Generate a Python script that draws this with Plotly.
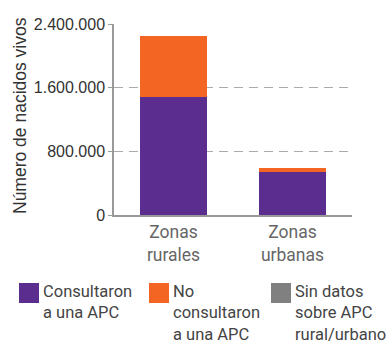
import plotly.graph_objects as go

# Births by zone and antenatal-care (APC) status
categories = ["Zonas<br>rurales", "Zonas<br>urbanas"]
consultaron = [1486000, 545000]
no_consultaron = [767000, 50000]
sin_datos = [0, 0]

series_names = ["Consultaron<br>a una APC", "No<br>consultaron<br>a una APC", "Sin datos<br>sobre APC<br>rural/urbano"]
series_colors = ["#5B2D8E", "#F26522", "#808080"]
y_ticks = [0, 800000, 1600000, 2400000]

fig = go.Figure()
for vals, name, color in zip([consultaron, no_consultaron, sin_datos], series_names, series_colors):
    fig.add_trace(go.Bar(x=[0, 1], y=vals, name=name, marker_color=color,
                         marker_line_width=0, width=0.565, showlegend=False))

fig.update_layout(
    barmode="stack",
    width=390, height=343,
    margin=dict(l=114, r=38, t=24, b=128),
    plot_bgcolor="white", paper_bgcolor="white",
    separators=",.",
    font=dict(family="Liberation Sans, Arial, sans-serif", color="#333"),
    xaxis=dict(
        range=[-0.5, 1.5], tickvals=[0, 1], ticktext=categories,
        showgrid=False, showline=True, linecolor="#999", linewidth=1.5,
        ticks="", ticklabelstandoff=0,
        tickfont=dict(family="Roboto, sans-serif", size=17.5, color="#666"),
        fixedrange=True,
    ),
    yaxis=dict(
        range=[0, 2400000], tickvals=y_ticks, tickformat=",d",
        showgrid=True, gridcolor="#aaa", griddash="9px,6px", gridwidth=1,
        showline=True, linecolor="#999", linewidth=1.5,
        ticks="outside", ticklen=4, tickcolor="#999",
        tickfont=dict(size=16, color="#333"), zeroline=False,
    ),
    showlegend=False,
)

# y-axis title
fig.add_annotation(text="Número de nacidos vivos", xref="paper", yref="paper",
                   x=-94/238, y=(215 - 116) / 191, textangle=-90, showarrow=False,
                   font=dict(size=17.5, color="#333"), xanchor="center", yanchor="middle")

# legend swatches and labels
legend_x = [19, 149, 271]
plot_w, plot_h = 238, 191
for lx, name, color in zip(legend_x, series_names, series_colors):
    x0 = (lx - 114) / plot_w
    x1 = (lx + 20 - 114) / plot_w
    y0 = (215 - 303) / plot_h
    y1 = (215 - 283) / plot_h
    fig.add_shape(type="rect", xref="paper", yref="paper", x0=x0, x1=x1, y0=y0, y1=y1,
                  fillcolor=color, line_width=0)
    fig.add_annotation(text=name, xref="paper", yref="paper",
                       x=(lx + 22 - 114) / plot_w, y=(215 - 280) / plot_h,
                       xanchor="left", yanchor="top", align="left", showarrow=False,
                       font=dict(family="Roboto, sans-serif", size=16.5, color="#444"))

fig.write_html("out.html")
